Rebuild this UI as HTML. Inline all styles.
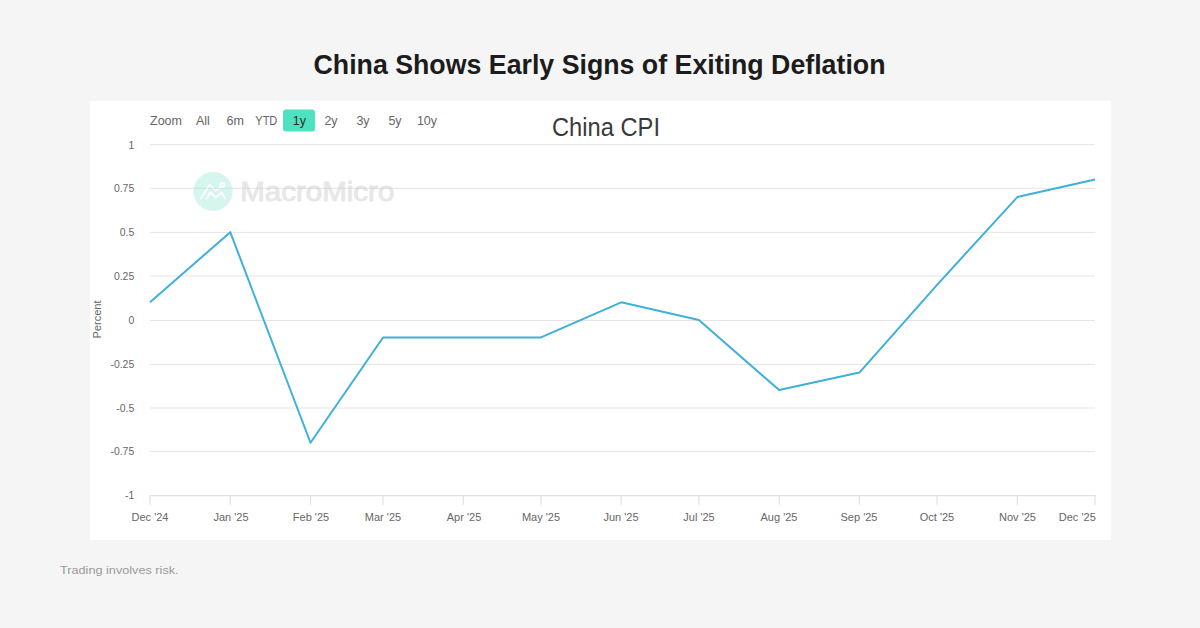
<!DOCTYPE html>
<html><head><meta charset="utf-8">
<title>China Shows Early Signs of Exiting Deflation</title>
<style>
html,body{margin:0;padding:0;}
body{width:1200px;height:628px;background:#f5f5f5;position:relative;overflow:hidden;font-family:"Liberation Sans",sans-serif;}
.panel{position:absolute;left:90px;top:101px;width:1021px;height:439px;background:#fff;}
svg{position:absolute;left:0;top:0;}
</style></head>
<body>
<div class="panel"></div>
<svg width="1200" height="628" viewBox="0 0 1200 628" font-family="Liberation Sans, sans-serif">
  <!-- page title -->
  <text x="599.5" y="74" font-size="28.3" font-weight="bold" fill="#1c1c1c" text-anchor="middle" textLength="572" lengthAdjust="spacingAndGlyphs">China Shows Early Signs of Exiting Deflation</text>

  <!-- watermark -->
  <g>
    <circle cx="213.1" cy="191.5" r="19.6" fill="#d5f6ee"/>
    <g stroke="#fff" stroke-width="1.8" fill="none" stroke-linecap="round" stroke-linejoin="round">
      <path d="M200.9 198.6 L209.5 185.1 L216 190.6 L220.6 186.6"/>
      <path d="M206.6 198.6 L210.2 192.5 L216 197.5 L221.7 192.5 L225.3 198.6"/>
      <circle cx="222.6" cy="185.1" r="2.1"/>
    </g>
    <text x="240.3" y="201.3" font-size="27.5" fill="#e6e7e8" stroke="#e6e7e8" stroke-width="0.9" textLength="154" lengthAdjust="spacingAndGlyphs">MacroMicro</text>
  </g>

  <!-- gridlines -->
  <g stroke="#cccccc" stroke-opacity="0.5" stroke-width="1" fill="none">
    <path d="M150 144.6H1095M150 188.3H1095M150 232.4H1095M150 276H1095M150 320.5H1095M150 364.4H1095M150 408H1095M150 451.6H1095"/>
  </g>
  <!-- x axis -->
  <g stroke="#e0e0e0" stroke-width="1.2" fill="none">
    <path d="M149.5 495.6H1095.5"/>
    <path d="M150 495V504.8M230.26 495V504.8M310.52 495V504.8M383.01 495V504.8M463.27 495V504.8M540.95 495V504.8M621.21 495V504.8M698.88 495V504.8M779.14 495V504.8M859.4 495V504.8M937.07 495V504.8M1017.33 495V504.8M1095 495V504.8"/>
  </g>

  <!-- series -->
  <polyline fill="none" stroke="#3fb0d9" stroke-width="2" stroke-linejoin="round" stroke-linecap="butt"
    points="150.0,302.35 230.26,232.15 310.52,442.75 383.01,337.45 463.27,337.45 540.95,337.45 621.21,302.35 698.88,319.9 779.14,390.1 859.4,372.55 937.07,284.8 1017.33,197.05 1095.0,179.5"/>

  <!-- y labels -->
  <g font-size="11.6" fill="#666" text-anchor="end" transform="translate(134.2 0) scale(0.9 1) translate(-134.2 0)">
    <text x="134.2" y="148.6">1</text>
    <text x="134.2" y="192.4">0.75</text>
    <text x="134.2" y="236.4">0.5</text>
    <text x="134.2" y="280">0.25</text>
    <text x="134.2" y="324.2">0</text>
    <text x="134.2" y="367.8">-0.25</text>
    <text x="134.2" y="411.8">-0.5</text>
    <text x="134.2" y="455.4">-0.75</text>
    <text x="134.2" y="498.9">-1</text>
  </g>
  <text transform="translate(100.6,319.5) rotate(-90)" font-size="11" fill="#666" text-anchor="middle" textLength="38" lengthAdjust="spacingAndGlyphs">Percent</text>

  <!-- x labels -->
  <g font-size="11" fill="#666" text-anchor="middle">
    <text x="150" y="521">Dec '24</text>
    <text x="231" y="521">Jan '25</text>
    <text x="311" y="521">Feb '25</text>
    <text x="383" y="521">Mar '25</text>
    <text x="464" y="521">Apr '25</text>
    <text x="541" y="521">May '25</text>
    <text x="621" y="521">Jun '25</text>
    <text x="699" y="521">Jul '25</text>
    <text x="779" y="521">Aug '25</text>
    <text x="859" y="521">Sep '25</text>
    <text x="937" y="521">Oct '25</text>
    <text x="1017.5" y="521">Nov '25</text>
    <text x="1077.3" y="521">Dec '25</text>
  </g>

  <!-- chart title -->
  <text x="606" y="136.3" font-size="26" fill="#3a3a3a" text-anchor="middle" textLength="108" lengthAdjust="spacingAndGlyphs">China CPI</text>

  <!-- range selector -->
  <g font-size="12.5" fill="#666">
    <text x="150" y="125">Zoom</text>
    <text x="196" y="125">All</text>
    <text x="226.5" y="125">6m</text>
    <text x="255.3" y="125" textLength="22" lengthAdjust="spacingAndGlyphs">YTD</text>
    <rect x="283" y="109.6" width="32" height="22" rx="3" fill="#4fe2c1"/>
    <text x="299.4" y="125" text-anchor="middle" fill="#2a2a2a">1y</text>
    <text x="331" y="125" text-anchor="middle">2y</text>
    <text x="363" y="125" text-anchor="middle">3y</text>
    <text x="395" y="125" text-anchor="middle">5y</text>
    <text x="427" y="125" text-anchor="middle">10y</text>
  </g>

  <!-- footer -->
  <text x="60" y="573.8" font-size="11.5" fill="#999" textLength="118.6" lengthAdjust="spacingAndGlyphs">Trading involves risk.</text>
</svg>
</body></html>
